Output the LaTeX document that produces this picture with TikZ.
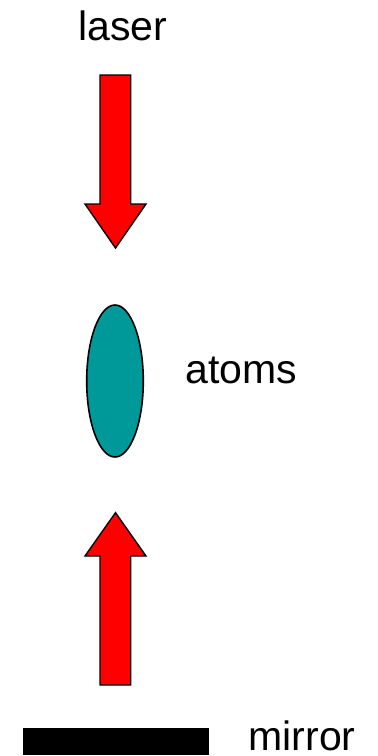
\documentclass[tikz,border=0pt]{standalone}
\usepackage{fontspec}
\setmainfont{Liberation Sans}
\usetikzlibrary{shapes.geometric}
\definecolor{cteal}{HTML}{009999}
\definecolor{cbeam}{HTML}{FF0000}

\begin{document}
\begin{tikzpicture}[
  x=0.5pt, y=-0.5pt,
  font=\fontsize{20.5}{24}\selectfont,
  beam/.style={fill=cbeam, draw=black, line width=0.7pt, line join=miter},
  cloud/.style={ellipse, fill=cteal, draw=black, line width=0.8pt,
                minimum width=28.3pt, minimum height=76pt, inner sep=0pt},
  label/.style={anchor=base, inner sep=0pt},
  ]
\useasboundingbox (0,0) rectangle (378,756);

% incoming beam
\node[label] (laser) at (123,40) {laser};
\draw[beam] (100,75) -- (130.7,75) -- (130.7,204) -- (146,204)
  -- (115.5,248) -- (85,204) -- (100,204) -- cycle;

% atom cloud
\node[cloud] (atoms) at (115,381) {};
\node[label] (atomstext) at (241.5,383) {atoms};

% reflected beam
\draw[beam] (115.5,512.7) -- (146,556) -- (130.7,556) -- (130.7,685)
  -- (100,685) -- (100,556) -- (85,556) -- cycle;

% mirror
\fill[black] (22.7,728.3) rectangle (209,755);
\node[label] (mirror) at (302,750) {mirror};
\end{tikzpicture}
\end{document}
